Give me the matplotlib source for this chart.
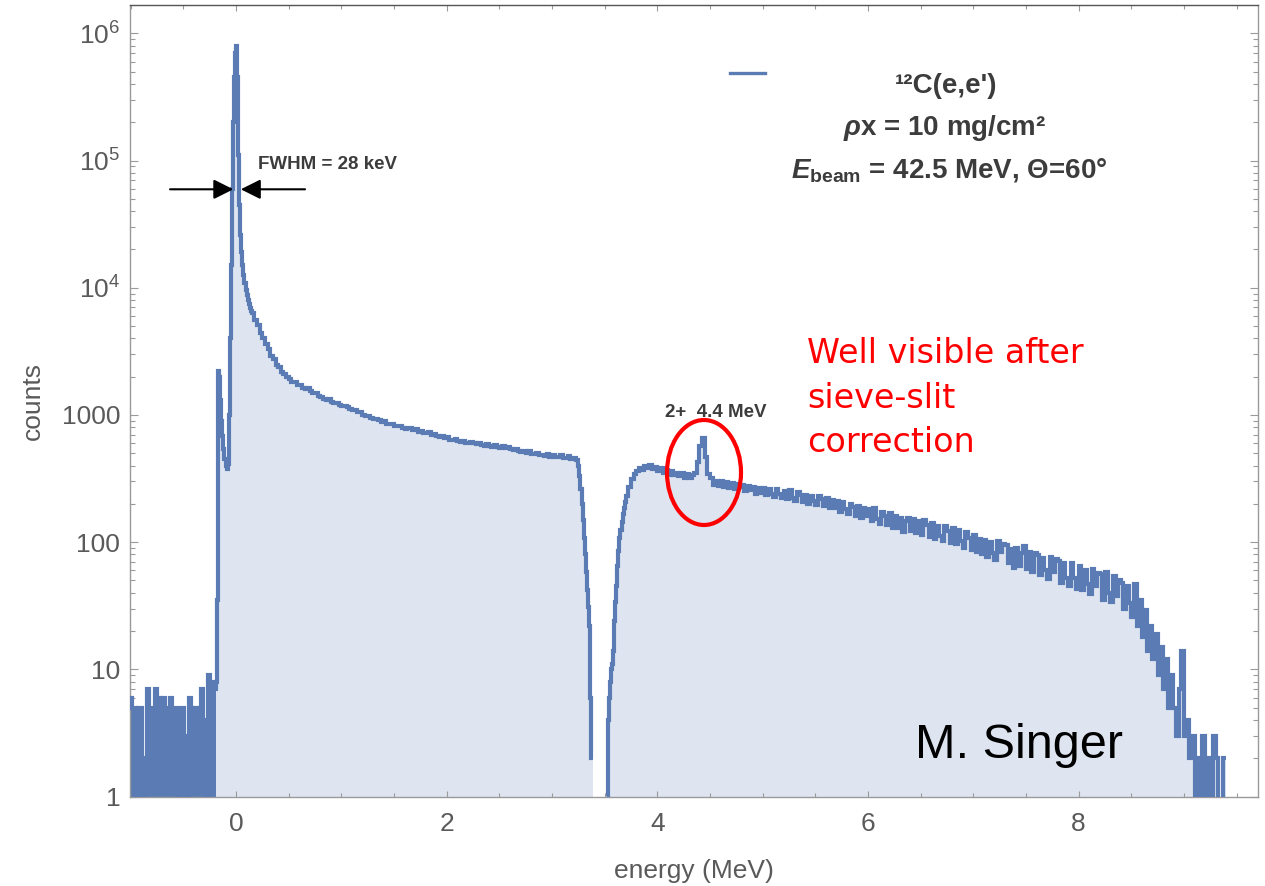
import numpy as np
import matplotlib
matplotlib.use('Agg')
import matplotlib.pyplot as plt
from matplotlib.patches import Ellipse
from matplotlib.lines import Line2D
from matplotlib.ticker import FixedLocator, FixedFormatter, MultipleLocator, LogLocator, NullFormatter

# ---------------- data (histogram segments: start energy, bin width, counts) ----------------
bg_start, bg_width = -1.01, 0.02
bg_counts = [6, 5, 5, 1, 5, 5, 0, 2, 7, 3, 5, 4, 7, 4, 6, 5, 6, 5, 5, 6, 5,
             5, 4, 1, 5, 5, 3, 1, 6, 5, 4, 5, 4, 5, 7, 4, 0, 9, 5, 8, 7]

peak_start, peak_width = -0.19, 0.01
peak_counts = [8, 35, 2200, 2000, 1300, 900, 680, 540, 450, 400, 375, 410, 1000, 4000,
               15000, 60000, 200000, 450000, 700000, 800000, 450000, 110000, 45000, 26000,
               19000, 15000, 12500, 10800, 9600, 8700, 8000, 7400, 6900, 6600]

tail_start, tail_width = 0.15, 0.025
tail_counts = [6300, 5550, 5050, 4420, 4050, 3580, 3290, 2920, 2730, 2480, 2370, 2170,
               2110, 1980, 1925, 1820, 1800, 1725, 1715, 1640, 1590, 1620, 1545, 1490,
               1475, 1410, 1395, 1340, 1310, 1325, 1270, 1245, 1245, 1190, 1165, 1180,
               1150, 1105, 1090, 1095, 1045, 1060, 1005, 985, 985, 950, 930, 935,
               915, 880, 895, 850, 848, 855, 820, 815, 820, 790, 780, 795,
               785, 755, 768, 740, 748, 725, 718, 730, 700, 712, 680, 672,
               682, 660, 668, 640, 632, 650, 620, 615, 628, 605, 598, 612,
               606, 588, 598, 578, 572, 590, 565, 562, 575, 556, 552, 566,
               548, 560, 536, 528, 540, 518, 512, 522, 505, 518, 495, 490,
               502, 482, 488, 478, 492, 470, 484, 468, 470, 480, 462, 455,
               472, 450, 462, 440]

edge_start, edge_width = 3.25, 0.01
edge_counts = [400, 330, 260, 200, 150, 108, 80, 58, 42, 31, 22, 6, 2, 2]

rise_start, rise_width = 3.52, 0.01
rise_counts = [1, 4, 6, 8, 10, 11, 14, 24, 34, 45, 65, 85, 108, 125, 145, 165, 185, 205]

high_start, high_width = 3.70, 0.025
high_counts = [230, 272, 314, 343, 365, 382, 368, 396, 380, 405, 378, 392,
               362, 380, 350, 366, 340, 362, 334, 352, 328, 348, 322, 342,
               318, 340, 352, 425, 565, 655, 470, 342, 318, 282, 305, 276,
               300, 270, 296, 266, 292, 262, 288, 270, 283, 250, 276, 256,
               272, 240, 266, 245, 268, 234, 260, 238, 228, 262, 240, 222,
               250, 218, 256, 224, 212, 246, 236, 208, 236, 200, 230, 212,
               196, 230, 218, 192, 222, 186, 214, 184, 212, 172, 205, 183,
               166, 200, 190, 160, 192, 155, 185, 160, 182, 146, 184, 152,
               140, 174, 160, 136, 168, 130, 160, 128, 155, 121, 146, 156,
               122, 152, 118, 146, 114, 148, 136, 110, 142, 106, 134, 112,
               102, 134, 122, 98, 130, 96, 124, 102, 90, 120, 108, 86,
               114, 84, 106, 80, 104, 76, 100, 82, 72, 102, 84, 97,
               95, 68, 88, 63, 90, 65, 82, 94, 61, 84, 58, 82,
               79, 55, 75, 60, 51, 77, 58, 73, 71, 48, 68, 52,
               45, 68, 52, 43, 65, 42, 60, 47, 39, 62, 45, 57,
               56, 35, 58, 40, 34, 54, 38, 50, 48, 30, 45, 33,
               26, 47, 22, 35, 18, 29, 14, 22, 12, 19, 9, 15,
               7, 12, 5, 9, 5, 3, 7, 14, 3, 4, 2, 3,
               1, 2, 0, 3, 0, 2, 0, 3, 2, 0, 0, 2]

xtick_values = [0, 2, 4, 6, 8]
xtick_labels = ['0', '2', '4', '6', '8']
ytick_values = [1, 10, 100, 1000, 1e4, 1e5, 1e6]
ytick_labels = ['1', '10', '100', '1000',
                r'$\mathregular{10^{4}}$', r'$\mathregular{10^{5}}$', r'$\mathregular{10^{6}}$']

legend_lines = ["\u00b9\u00b2C(e,e')", r'$\rho$x = 10 mg/cm²', r'$E_{\mathrm{beam}}$ = 42.5 MeV, Θ=60°']
fwhm_text = 'FWHM = 28 keV'
state_text = '2+  4.4 MeV'
note_lines = ['Well visible after', 'sieve-slit', 'correction']
author_text = 'M. Singer'

# ---------------- style ----------------
W, H = 1265, 886
plt.rcParams['font.family'] = ['Liberation Sans', 'DejaVu Sans']
plt.rcParams['mathtext.fontset'] = 'custom'
plt.rcParams['mathtext.rm'] = 'Liberation Sans:bold'
plt.rcParams['mathtext.it'] = 'Liberation Sans:italic:bold'
plt.rcParams['mathtext.bf'] = 'Liberation Sans:bold'

line_col = '#5a7bb4'
fill_col = '#dee5f0'
axis_col = '#9a9a9a'
tick_lab_col = '#5a5a5a'
ann_col = '#3c3c3c'


def edges(start, width, n):
    return start + width * np.arange(n + 1)


e_bg = edges(bg_start, bg_width, len(bg_counts))
e_pk = edges(peak_start, peak_width, len(peak_counts))
e_tl = edges(tail_start, tail_width, len(tail_counts))
e_ed = edges(edge_start, edge_width, len(edge_counts))
e_rs = edges(rise_start, rise_width, len(rise_counts))
e_hi = edges(high_start, high_width, len(high_counts))

edges1 = np.concatenate([e_bg, e_pk[1:], e_tl[1:], e_ed[1:]])
vals1 = np.array(bg_counts + peak_counts + tail_counts + edge_counts, dtype=float)
edges2 = np.concatenate([e_rs, e_hi[1:]])
vals2 = np.array(rise_counts + high_counts, dtype=float)

fig = plt.figure(figsize=(W / 100, H / 100), dpi=100)
ax = fig.add_axes([130 / W, 1 - 796.5 / H, (1257.7 - 130) / W, (796.5 - 5) / H])
ax.set_yscale('log', nonpositive='clip')
ax.set_xlim(-1.007, 9.70)
ax.set_ylim(1, 1.67e6)

for v, e in ((vals1, edges1), (vals2, edges2)):
    ax.stairs(v, e, baseline=1, fill=True, color=fill_col, lw=0, zorder=1)
ax.stairs(np.array(bg_counts, float), e_bg, baseline=1, fill=True, color=line_col, lw=0, zorder=2)
for v, e in ((vals1, edges1), (vals2, edges2)):
    ax.stairs(v, e, baseline=None, color=line_col, lw=3.0, zorder=3)

# axes styling
for sp in ax.spines.values():
    sp.set_color(axis_col)
    sp.set_linewidth(1.0)
ax.spines['top'].set_color('#555555')

ax.xaxis.set_major_locator(FixedLocator(xtick_values))
ax.xaxis.set_major_formatter(FixedFormatter(xtick_labels))
ax.xaxis.set_minor_locator(MultipleLocator(0.5))
ax.yaxis.set_major_locator(FixedLocator(ytick_values))
ax.yaxis.set_major_formatter(FixedFormatter(ytick_labels))
ax.yaxis.set_minor_locator(LogLocator(base=10, subs=range(2, 10), numticks=60))
ax.yaxis.set_minor_formatter(NullFormatter())

ax.tick_params(which='both', direction='in', top=True, right=True, color=axis_col,
               width=0.8, labelsize=19, labelcolor=tick_lab_col)
ax.tick_params(axis='x', which='major', length=4.5, pad=11)
ax.tick_params(axis='x', which='minor', length=3)
ax.tick_params(axis='y', which='major', length=6, pad=7)
ax.tick_params(axis='y', which='minor', length=3.5)

ax.set_xlabel('energy (MeV)', fontsize=19, color=tick_lab_col, labelpad=17)
ax.set_ylabel('counts', fontsize=19, color=tick_lab_col, labelpad=12)

# FWHM arrows
y_arr = 59400
ax.annotate('', xy=(-0.026, y_arr), xytext=(-0.627, y_arr),
            arrowprops=dict(arrowstyle='-|>,head_length=0.6,head_width=0.3', mutation_scale=20,
                            color='black', lw=1.5, shrinkA=0, shrinkB=0), zorder=5)
ax.annotate('', xy=(0.045, y_arr), xytext=(0.655, y_arr),
            arrowprops=dict(arrowstyle='-|>,head_length=0.6,head_width=0.3', mutation_scale=20,
                            color='black', lw=1.5, shrinkA=0, shrinkB=0), zorder=5)


def fx(px):
    return px / W


def fy(py):
    return 1 - py / H


fig.text(fx(258), fy(169), fwhm_text, fontsize=13.5, fontweight='bold', color=ann_col,
         ha='left', va='baseline')
fig.text(fx(716), fy(417), state_text, fontsize=13.5, fontweight='bold', color=ann_col,
         ha='center', va='baseline')

# legend block
fig.add_artist(Line2D([fx(730), fx(765)], [fy(73), fy(73)], color=line_col, lw=2.4))
for txt, cx, by in zip(legend_lines, (946, 945, 949), (93, 135, 177)):
    fig.text(fx(cx), fy(by), txt, fontsize=20, fontweight='bold', color=ann_col,
             ha='center', va='baseline')

# red note and ellipse
for txt, by in zip(note_lines, (363, 408, 452)):
    fig.text(fx(807), fy(by), txt, fontsize=24, color='#ff0000', family='DejaVu Sans',
             ha='left', va='baseline')
ell = Ellipse((fx(704), fy(472.5)), width=74 / W, height=105 / H, transform=fig.transFigure,
              fill=False, edgecolor='#ff0000', lw=3.0, zorder=6)
fig.add_artist(ell)

fig.text(fx(915), fy(758), author_text, fontsize=35, color='black', ha='left', va='baseline')

fig.savefig('out.png', dpi=100)
